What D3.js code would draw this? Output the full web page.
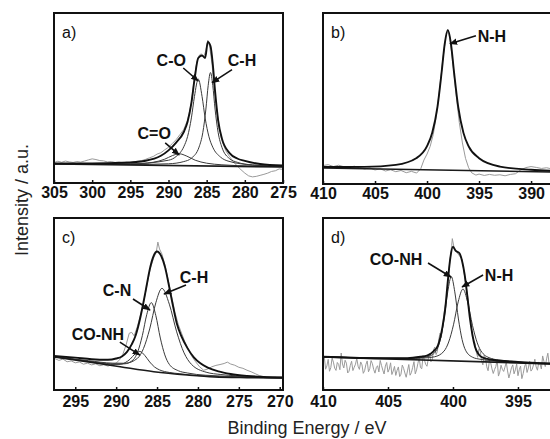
<!DOCTYPE html>
<html>
<head>
<meta charset="utf-8">
<script src="https://cdn.jsdelivr.net/npm/d3@7"></script>
<style>
    body { margin: 0; background: #fff; }
    svg { display: block; font-family: "Liberation Sans", Arial, sans-serif; }
</style>
</head>
<body>
<div id="chart"></div>
<script>
// ---- panel a) C1s ----
var aTicks = [305, 300, 295, 290, 285, 280, 275];
var aRaw = [[305,12.0],[304.5,12.8],[304,12.2],[303.5,12.9],[303,12.4],[302.5,12.1],[302,12.6],[301.5,12.3],[301,12.9],[300.5,13.6],[300,14.2],[299.5,13.8],[299,13.2],[298.5,13.0],[298,12.4],[297.5,12.6],[297,12.1],[296.5,12.3],[296,11.9],[295.5,12.2],[295,12.0],[294.5,12.5],[294,12.9],[293.5,13.2],[293,13.9],[292.5,14.8],[292,15.6],[291.5,17.0],[291,17.8],[290.5,19.5],[290,21.0],[289.5,23.2],[289,25.5],[288.5,28.5],[288,31.5],[287.5,37],[287,47],[286.6,62],[286.3,71],[286,75],[285.7,76],[285.4,74],[285.1,78],[284.85,84],[284.6,80],[284.3,70],[284,56],[283.7,44],[283.4,33],[283,25],[282.5,19],[282,15.5],[281.5,12.5],[281,10],[280.5,7.8],[280,5.8],[279.5,4.2],[279,3.6],[278.5,3.9],[278,4.5],[277.5,5.1],[277,5.8],[276.5,6.8],[276,7.2],[275.5,8.3],[275,8.0]];
var aEnvelope = [[305,11.5],[300,11.5],[296,11.9],[293,13.1],[291,16.0],[290,19.2],[289,23.8],[288,30],[287.5,36],[287,47.1],[286.6,60.6],[286.1,73.5],[285.6,75],[285.2,73.5],[284.85,83],[284.5,80.6],[284.2,70],[283.9,54],[283.5,37],[283,26.1],[282,17.6],[281,14.4],[280,13.0],[278,11.2],[275,10.3]];
var aBaseline = [[305,11.2],[275,9.4]];
var aCO = [[305,11.34],[295,11.24],[290,13.4],[289,15.6],[288,21.3],[287.5,27.35],[287,38.3],[286.6,50.9],[286.1,61.1],[285.6,50.8],[285.2,38.2],[284.7,27.2],[284.2,21.05],[283.2,15.3],[282.2,12.9],[279,10.6],[275,9.8]];
var aCH = [[305,11.27],[295,10.9],[290,11.3],[288,12.6],[287,14.6],[286,21.1],[285.5,29.8],[285.1,43.5],[284.8,57.4],[284.5,65],[284.2,57.4],[283.9,43.5],[283.5,29.8],[283,21],[282,14.3],[281,12.2],[279,10.6],[275,9.7]];
var aCdO = [[305,11.3],[300,11.1],[295,11.2],[292,12.2],[290.5,14.0],[289.5,16.1],[288.6,17.2],[287.6,15.8],[286.5,13.4],[285,11.65],[283,10.7],[279,9.94],[275,9.55]];

// ---- panel b) N1s ----
var bTicks = [410, 405, 400, 395, 390];
var bRaw = [[410,10.8],[409.5,11.3],[409,10.2],[408.5,11.0],[408,10.1],[407.5,9.6],[407,10.4],[406.5,9.5],[406,8.8],[405.5,9.4],[405,8.2],[404.5,8.9],[404,7.6],[403.5,8.3],[403,7.2],[402.5,7.9],[402,6.6],[401.5,7.4],[401,6.4],[400.6,9.0],[400.3,14.0],[400,17.5],[399.7,22],[399.4,29],[399.1,40],[398.8,55],[398.5,72],[398.2,86],[398,90],[397.8,85],[397.5,70],[397.2,52],[396.9,36],[396.6,24],[396.3,15],[396,9.5],[395.7,6.5],[395.3,5.2],[395,5.8],[394.5,5.0],[394,5.6],[393.5,5.1],[393,5.4],[392.5,4.8],[392,5.6],[391.5,6.0],[391,8.2],[390.5,9.6],[390,10.2],[389.5,9.7],[389,9.1],[388.5,9.5],[388,8.8],[387.7,9.0]];
var bNH = [[410,9.9],[406,10.0],[403,11.2],[401,15.2],[400,22.1],[399.5,30],[399,45],[398.6,65.2],[398.3,82],[398,90.1],[397.7,82],[397.4,65.1],[397,44.9],[396.5,29.9],[396,22.0],[395,15.1],[393,10.2],[390,8.3],[387.7,7.6]];
var bBaseline = [[410,9.4],[387.7,7.0]];

// ---- panel c) C1s ----
var cTicks = [295, 290, 285, 280, 275, 270];
var cRaw = [[297.6,18.5],[297,17.2],[296.5,18.0],[296,16.4],[295.5,16.9],[295,15.8],[294.5,16.3],[294,15.0],[293.5,15.6],[293,14.6],[292.5,15.2],[292,14.1],[291.5,14.7],[291,13.9],[290.5,14.8],[290,15.6],[289.6,17.5],[289.2,20.5],[288.8,26],[288.4,33],[288.1,33.5],[287.8,31.5],[287.4,37],[287,44],[286.6,52],[286.2,62],[285.8,71],[285.4,77],[285.1,80],[284.9,86],[284.7,82],[284.4,79],[284,72],[283.6,63],[283.2,54],[282.8,45],[282.4,38],[282,33],[281.6,28],[281.2,24],[280.8,20],[280.3,16.5],[279.8,13.5],[279.3,11.5],[278.8,12.2],[278.3,13.5],[277.8,14.3],[277.3,14.8],[276.8,15.4],[276.4,16.2],[276,15.1],[275.5,14.4],[275,13.2],[274.5,12.6],[274,11.5],[273.5,10.6],[273,9.5],[272.5,8.4],[272,7.8],[271.5,7.5],[271,7.2],[270.5,7.4],[269.6,7.0]];
var cEnvelope = [[297.6,19.8],[295,18.8],[293,17.9],[291,17.6],[290,18.3],[289.3,19.5],[288.7,22],[288.1,26.5],[287.6,32],[287.1,41],[286.7,50],[286.3,60],[285.9,70],[285.5,77],[285.0,80.5],[284.5,78],[284.0,71],[283.6,62],[283.1,50],[282.6,39],[282.0,31],[281.3,24.5],[280.5,19],[279.7,15.5],[278.8,13],[277.5,10.8],[276,9.3],[274,8.2],[272,7.6],[269.6,7.3]];
var cBaseline = [[297.6,19.2],[293.6,16.5],[289.5,13.5],[285.4,10.6],[281.3,8.7],[278,7.6],[274,7.2],[269.6,7.0]];
var cCH = [[297.6,19.55],[293.4,17.05],[290.4,15.6],[288.9,15.55],[287.4,18.4],[286.65,24.2],[285.9,35.5],[285.15,50.7],[284.4,59.1],[283.5,49.9],[282.6,33.8],[281.7,21.6],[280.8,14.95],[279.0,10.35],[277.2,9.0],[273.6,7.9],[269.6,7.45]];
var cCN = [[297.6,19.4],[292.3,16.1],[290.1,15.1],[289.0,15.2],[287.9,17.6],[287.35,22.4],[286.8,31.6],[286.25,44],[285.7,50.8],[285.15,43.3],[284.6,30.2],[284.05,20.4],[283.5,14.9],[282.4,11.2],[281.3,9.9],[279.1,8.6],[269.6,7.15]];
var cCONH = [[297.6,19.3],[294.3,17.15],[291.9,15.6],[290.7,14.9],[289.5,14.9],[288.9,15.9],[288.3,17.9],[287.7,20.9],[287.1,22.4],[286.5,20.1],[285.9,16.3],[285.3,13.35],[284.7,11.7],[283.5,10.2],[282.3,9.5],[279.9,8.35],[269.6,7.05]];

// ---- panel d) N1s ----
var dTicks = [410, 405, 400, 395];
var dRaw = [[410.0,15.5],[409.9,19.2],[409.8,12.1],[409.7,14.0],[409.6,17.8],[409.5,10.9],[409.4,13.0],[409.3,18.6],[409.2,16.2],[409.1,12.7],[409.0,11.4],[408.9,16.0],[408.8,14.9],[408.7,11.8],[408.6,21.5],[408.5,15.1],[408.4,12.8],[408.3,17.3],[408.2,15.6],[408.1,9.9],[408.0,10.9],[407.9,14.2],[407.8,16.7],[407.7,11.3],[407.6,13.2],[407.5,15.0],[407.4,18.4],[407.3,13.8],[407.2,12.0],[407.1,16.3],[407.0,14.6],[406.9,9.7],[406.8,11.2],[406.7,14.8],[406.6,16.9],[406.5,10.6],[406.4,12.5],[406.3,17.1],[406.2,15.3],[406.1,11.9],[406.0,9.8],[405.9,13.0],[405.8,14.1],[405.7,10.5],[405.6,17.2],[405.5,14.3],[405.4,11.6],[405.3,9.3],[405.2,13.9],[405.1,16.0],[405.0,10.4],[404.9,12.2],[404.8,15.8],[404.7,9.0],[404.6,11.0],[404.5,13.7],[404.4,8.5],[404.3,11.4],[404.2,13.4],[404.1,7.8],[404.0,9.2],[403.9,14.5],[403.8,12.6],[403.7,9.9],[403.6,7.4],[403.5,11.1],[403.4,14.8],[403.3,8.6],[403.2,10.1],[403.1,13.2],[403.0,16.5],[402.9,9.4],[402.8,11.7],[402.7,15.4],[402.6,18.9],[402.5,13.0],[402.4,12.4],[402.3,19.8],[402.2,17.6],[402.1,14.9],[402.0,13.8],[401.9,18.0],[401.8,21.2],[401.7,16.4],[401.6,17.5],[401.5,23.1],[401.4,25.0],[401.3,20.6],[401.2,22.4],[401.1,29.0],[401.0,33],[400.9,30.5],[400.8,36],[400.7,44],[400.6,49],[400.5,53],[400.4,60],[400.3,71],[400.2,77],[400.1,84],[400.05,88],[399.9,82],[399.7,80],[399.5,78],[399.3,76],[399.1,66],[398.9,56],[398.7,44],[398.5,31],[398.3,27],[398.2,22.0],[398.1,19],[398.0,24.0],[397.9,22.5],[397.8,17.1],[397.7,14.6],[397.6,20.3],[397.5,18.8],[397.4,13.5],[397.3,11.2],[397.2,16.8],[397.1,15.9],[397.0,12.3],[396.9,9.6],[396.8,11.9],[396.7,13.7],[396.6,17.5],[396.5,8.1],[396.4,10.4],[396.3,14.4],[396.2,12.0],[396.1,10.8],[396.0,13.3],[395.9,16.2],[395.8,11.1],[395.7,7.0],[395.6,9.8],[395.5,12.9],[395.4,14.6],[395.3,9.4],[395.2,11.7],[395.1,15.1],[395.0,8.3],[394.9,11.8],[394.8,13.9],[394.7,6.6],[394.6,9.5],[394.5,13.3],[394.4,15.6],[394.3,10.2],[394.2,12.8],[394.1,16.7],[394.0,11.0],[393.9,12.1],[393.8,14.7],[393.7,17.9],[393.6,13.4],[393.5,11.5],[393.4,16.3],[393.3,15.0],[393.2,12.2],[393.1,19.8],[393.0,16.6],[392.9,13.6],[392.8,18.1],[392.7,21.4],[392.6,14.9],[392.5,16.3],[392.4,20.2],[392.3,22.6],[392.2,17.4],[392.15,18.2]];
var dEnvelope = [[410,19.3],[406,18.5],[403.5,18.5],[402.5,19.3],[402,20],[401.5,22.5],[401.15,26],[400.8,37],[400.6,47],[400.4,63],[400.2,77],[400.0,83.3],[399.8,81],[399.5,79.5],[399.3,75],[399.1,67],[398.9,55],[398.7,42],[398.5,32],[398.3,25],[398.0,20.5],[397.7,18.8],[397,17.6],[395,16.3],[392.15,15.3]];
var dBaseline = [[410,19.2],[392.15,15.1]];
var dCONH = [[410,19.3],[403.43,18.4],[402.33,18.9],[401.78,19.75],[401.23,23.6],[400.96,29.8],[400.68,41.5],[400.4,57.2],[400.13,65.9],[399.86,57.05],[399.58,41.3],[399.3,29.4],[399.03,23.1],[398.48,19],[397.93,17.9],[396.83,16.9],[392.15,15.2]];
var dNH = [[410,19.4],[403.61,18.3],[402.15,18.66],[401.42,19.3],[400.69,22.56],[400.33,27.9],[399.96,37.9],[399.6,51.2],[399.23,58.7],[398.87,51.05],[398.5,37.6],[398.13,27.4],[397.77,21.9],[397.04,18.3],[396.31,17.3],[394.85,16.3],[392.15,15.3]];

var width = 550, height = 439;

var svg = d3.select("#chart")
        .append("svg")
        .attr("width", width)
        .attr("height", height);

svg.append("defs").append("marker")
        .attr("id", "arrow")
        .attr("viewBox", "0 0 10 10")
        .attr("refX", 9)
        .attr("refY", 5)
        .attr("markerWidth", 5)
        .attr("markerHeight", 5)
        .attr("orient", "auto")
        .append("path")
        .attr("d", "M0,1L10,5L0,9z")
        .attr("fill", "#111");

var panels = [
    {name: "a", label: "a)", left: 54, right: 283, top: 13, bottom: 183, xDomain: [305, 275], ticks: aTicks, pad: 4,
        raw: aRaw, envelope: aEnvelope, baseline: aBaseline, comps: [aCO, aCH, aCdO],
        notes: [
            {text: "C-O", at: [286.1, 60], tail: [-15, -13], txt: [-27, -15]},
            {text: "C-H", at: [284.3, 59], tail: [20, -13], txt: [30, -17]},
            {text: "C=O", at: [288.6, 16.5], tail: [-14, -12], txt: [-25, -16]}
        ]},
    {name: "b", label: "b)", left: 323, right: 555, top: 13, bottom: 184, xDomain: [410, 387.7], ticks: bTicks, pad: 4,
        raw: bRaw, envelope: bNH, baseline: bBaseline, comps: [],
        notes: [
            {text: "N-H", at: [397.8, 82], tail: [26, -8], txt: [42, -2]}
        ]},
    {name: "c", label: "c)", left: 54, right: 283, top: 218, bottom: 390, xDomain: [297.6, 269.6], ticks: cTicks, pad: 6,
        raw: cRaw, envelope: cEnvelope, baseline: cBaseline, comps: [cCH, cCN, cCONH],
        notes: [
            {text: "C-H", at: [284.15, 55.8], tail: [22, -9], txt: [30, -11]},
            {text: "C-N", at: [285.86, 46.5], tail: [-17, -11], txt: [-33, -14]},
            {text: "CO-NH", at: [287.1, 20.3], tail: [-20, -13], txt: [-42, -15]}
        ]},
    {name: "d", label: "d)", left: 323, right: 555, top: 218, bottom: 390, xDomain: [410, 392.15], ticks: dTicks, pad: 6,
        raw: dRaw, envelope: dEnvelope, baseline: dBaseline, comps: [dCONH, dNH],
        notes: [
            {text: "CO-NH", at: [400.15, 65.7], tail: [-23, -14], txt: [-55, -12]},
            {text: "N-H", at: [399.3, 59.9], tail: [21, -12], txt: [37, -6]}
        ]}
];

function drawPanel(p) {
    var x = d3.scaleLinear().domain(p.xDomain).range([p.left, p.right]);
    var y = d3.scaleLinear().domain([0, 100]).range([p.bottom, p.top]);

    svg.append("clipPath")
            .attr("id", "clip-" + p.name)
            .append("rect")
            .attr("x", p.left)
            .attr("y", p.top)
            .attr("width", p.right - p.left)
            .attr("height", p.bottom - p.top);

    var g = svg.append("g").attr("clip-path", "url(#clip-" + p.name + ")");

    var rawLine = d3.line().x(d => x(d[0])).y(d => y(d[1]));
    var smooth = d3.line().x(d => x(d[0])).y(d => y(d[1])).curve(d3.curveMonotoneX);

    g.append("path")
            .datum(p.raw)
            .attr("d", rawLine)
            .attr("fill", "none")
            .attr("stroke", "#9a9a9a")
            .attr("stroke-width", 1);

    p.comps.forEach(function (c) {
        g.append("path")
                .datum(c)
                .attr("d", smooth)
                .attr("fill", "none")
                .attr("stroke", "#3a3a3a")
                .attr("stroke-width", 1);
    });

    g.append("path")
            .datum(p.baseline)
            .attr("d", smooth)
            .attr("fill", "none")
            .attr("stroke", "#1a1a1a")
            .attr("stroke-width", 1.6);

    g.append("path")
            .datum(p.envelope)
            .attr("d", smooth)
            .attr("fill", "none")
            .attr("stroke", "#111")
            .attr("stroke-width", 1.9);

    // frame
    svg.append("rect")
            .attr("x", p.left)
            .attr("y", p.top)
            .attr("width", p.right - p.left)
            .attr("height", p.bottom - p.top)
            .attr("fill", "none")
            .attr("stroke", "#111")
            .attr("stroke-width", 2);

    var axis = svg.append("g")
            .attr("transform", "translate(0," + p.bottom + ")")
            .call(d3.axisBottom(x)
                    .tickValues(p.ticks)
                    .tickSizeInner(-3)
                    .tickSizeOuter(0)
                    .tickPadding(p.pad));
    axis.select(".domain").remove();
    axis.selectAll("line").attr("stroke", "#111").attr("stroke-width", 1.5);
    axis.selectAll("text")
            .attr("fill", "#111")
            .attr("font-size", 16)
            .attr("font-weight", "bold")
            .attr("font-family", "'Liberation Sans', Arial, sans-serif");

    svg.append("text")
            .attr("x", p.left + 8)
            .attr("y", p.top + 25)
            .attr("font-size", 16)
            .attr("fill", "#111")
            .text(p.label);

    p.notes.forEach(function (n) {
        var tx = x(n.at[0]), ty = y(n.at[1]);
        svg.append("line")
                .attr("x1", tx + n.tail[0])
                .attr("y1", ty + n.tail[1])
                .attr("x2", tx)
                .attr("y2", ty)
                .attr("stroke", "#111")
                .attr("stroke-width", 1.6)
                .attr("marker-end", "url(#arrow)");
        svg.append("text")
                .attr("x", tx + n.txt[0])
                .attr("y", ty + n.txt[1])
                .attr("text-anchor", "middle")
                .attr("font-size", 16)
                .attr("font-weight", "bold")
                .attr("fill", "#111")
                .text(n.text);
    });
}

panels.forEach(drawPanel);

// axis titles
svg.append("text")
        .attr("text-anchor", "middle")
        .attr("transform", "translate(28,200)rotate(-90)")
        .attr("font-size", 18)
        .attr("fill", "#222")
        .text("Intensity / a.u.");

svg.append("text")
        .attr("text-anchor", "middle")
        .attr("x", 307)
        .attr("y", 434)
        .attr("font-size", 18)
        .attr("fill", "#222")
        .text("Binding Energy / eV");
</script>
</body>
</html>
